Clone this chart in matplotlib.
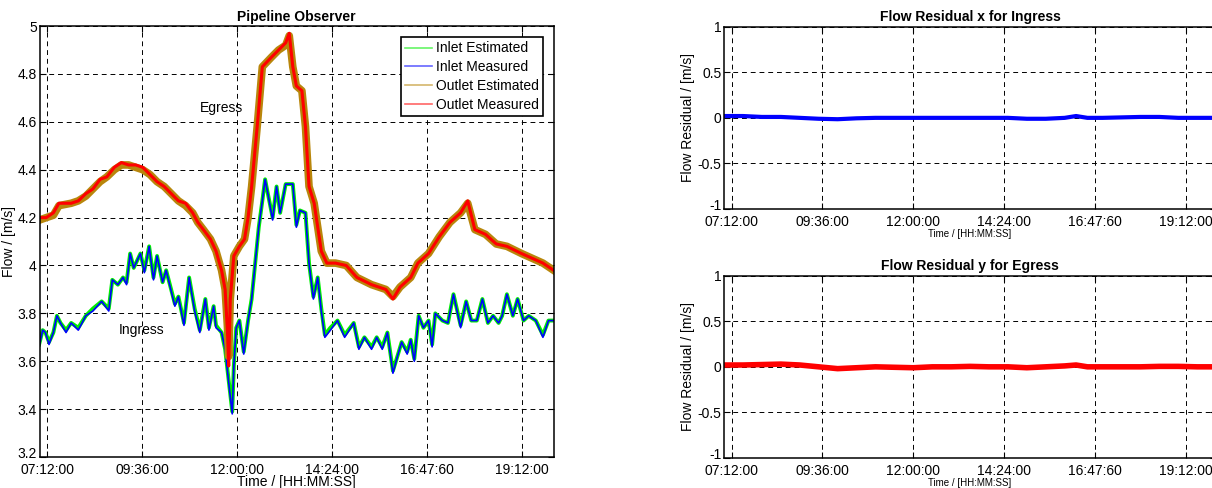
import numpy as np
import matplotlib
matplotlib.use('Agg')
import matplotlib.pyplot as plt
import matplotlib.transforms as mtransforms

plt.rcParams['font.family'] = ['Liberation Sans', 'DejaVu Sans']
plt.rcParams['font.size'] = 10

# Время в часах и значения
outlet_t = [7.0, 7.17, 7.35, 7.49, 7.8, 7.98, 8.17, 8.35, 8.53, 8.7, 8.89, 9.07,
            9.25, 9.43, 9.61, 9.79, 9.97, 10.15, 10.33, 10.51, 10.69, 10.87, 11.0,
            11.14, 11.32, 11.46, 11.6, 11.69, 11.75, 11.78, 11.82, 11.91, 12.05,
            12.18, 12.27, 12.36, 12.5, 12.63, 12.86, 13.04, 13.22, 13.31, 13.4,
            13.49, 13.63, 13.72, 13.81, 13.94, 14.03, 14.12, 14.26, 14.48, 14.75,
            15.02, 15.39, 15.75, 15.93, 16.11, 16.38, 16.56, 16.83, 17.1, 17.37,
            17.64, 17.82, 18.0, 18.27, 18.54, 18.81, 19.18, 19.45, 19.72, 19.99]
outlet_meas = [4.20, 4.20, 4.22, 4.26, 4.26, 4.27, 4.30, 4.32, 4.36, 4.37, 4.41, 4.43,
               4.42, 4.42, 4.41, 4.38, 4.35, 4.33, 4.30, 4.27, 4.26, 4.22, 4.18,
               4.15, 4.11, 4.06, 3.98, 3.90, 3.72, 3.58, 3.86, 4.04, 4.08,
               4.11, 4.20, 4.33, 4.58, 4.83, 4.87, 4.90, 4.93, 4.97, 4.83,
               4.75, 4.73, 4.58, 4.33, 4.26, 4.16, 4.06, 4.01, 4.01, 4.00,
               3.95, 3.92, 3.90, 3.86, 3.91, 3.95, 4.01, 4.05, 4.12, 4.18,
               4.22, 4.27, 4.15, 4.13, 4.09, 4.08, 4.05, 4.03, 4.01, 3.98]
outlet_est = [4.19, 4.20, 4.21, 4.25, 4.26, 4.27, 4.29, 4.32, 4.35, 4.37, 4.40, 4.42,
              4.42, 4.41, 4.40, 4.38, 4.35, 4.33, 4.30, 4.27, 4.25, 4.22, 4.18,
              4.15, 4.11, 4.06, 3.98, 3.90, 3.74, 3.62, 3.86, 4.04, 4.08,
              4.11, 4.20, 4.33, 4.58, 4.83, 4.87, 4.90, 4.92, 4.96, 4.83,
              4.75, 4.73, 4.58, 4.33, 4.26, 4.16, 4.06, 4.01, 4.01, 4.00,
              3.95, 3.92, 3.90, 3.87, 3.91, 3.95, 4.01, 4.05, 4.12, 4.18,
              4.22, 4.26, 4.15, 4.13, 4.09, 4.08, 4.05, 4.03, 4.01, 3.98]

inlet_t = [6.99, 7.08, 7.15, 7.24, 7.35, 7.44, 7.53, 7.67, 7.8, 7.98, 8.17, 8.35,
           8.57, 8.75, 8.84, 8.98, 9.11, 9.2, 9.29, 9.38, 9.55, 9.65, 9.77, 9.88,
           9.97, 10.11, 10.2, 10.42, 10.51, 10.65, 10.78, 10.92, 11.05, 11.19,
           11.28, 11.4, 11.46, 11.6, 11.69, 11.78, 11.87, 11.91, 11.97, 12.05,
           12.16, 12.27, 12.36, 12.45, 12.54, 12.63, 12.7, 12.77, 12.89, 12.99,
           13.08, 13.22, 13.4, 13.49, 13.58, 13.72, 13.81, 13.92, 14.03, 14.12,
           14.21, 14.35, 14.53, 14.71, 14.94, 15.07, 15.21, 15.39, 15.52, 15.66,
           15.79, 15.93, 16.06, 16.15, 16.29, 16.38, 16.47, 16.58, 16.7, 16.83,
           16.92, 17.0, 17.18, 17.32, 17.46, 17.64, 17.78, 17.91, 18.05, 18.19,
           18.33, 18.46, 18.6, 18.69, 18.81, 18.96, 19.08, 19.23, 19.36, 19.54,
           19.72, 19.86, 19.99]
inlet_meas = [3.66, 3.73, 3.72, 3.67, 3.72, 3.79, 3.76, 3.72, 3.76, 3.73, 3.79, 3.81,
              3.85, 3.81, 3.94, 3.92, 3.95, 3.92, 4.05, 3.99, 4.05, 3.97, 4.08, 3.94,
              4.04, 3.93, 3.98, 3.83, 3.87, 3.75, 3.95, 3.81, 3.72, 3.86,
              3.73, 3.83, 3.74, 3.72, 3.65, 3.51, 3.38, 3.58, 3.74, 3.77,
              3.63, 3.77, 3.86, 4.01, 4.16, 4.27, 4.36, 4.30, 4.19, 4.33,
              4.22, 4.34, 4.34, 4.16, 4.23, 4.22, 4.01, 3.86, 3.95, 3.81,
              3.70, 3.73, 3.77, 3.70, 3.76, 3.65, 3.70, 3.65, 3.70, 3.65,
              3.72, 3.55, 3.63, 3.68, 3.63, 3.69, 3.60, 3.79, 3.74, 3.77,
              3.66, 3.80, 3.77, 3.76, 3.88, 3.74, 3.85, 3.77, 3.77, 3.86,
              3.76, 3.79, 3.76, 3.79, 3.88, 3.79, 3.86, 3.77, 3.79, 3.77,
              3.70, 3.77, 3.77]
inlet_est = [3.67, 3.73, 3.72, 3.68, 3.72, 3.79, 3.76, 3.73, 3.76, 3.74, 3.79, 3.82,
             3.85, 3.82, 3.94, 3.92, 3.95, 3.93, 4.05, 3.99, 4.05, 3.98, 4.08, 3.95,
             4.04, 3.93, 3.98, 3.84, 3.87, 3.76, 3.95, 3.82, 3.73, 3.86,
             3.74, 3.83, 3.75, 3.72, 3.65, 3.52, 3.39, 3.58, 3.74, 3.77,
             3.64, 3.77, 3.86, 4.01, 4.16, 4.27, 4.36, 4.30, 4.20, 4.33,
             4.22, 4.34, 4.34, 4.17, 4.23, 4.22, 4.01, 3.87, 3.95, 3.82,
             3.71, 3.74, 3.77, 3.71, 3.76, 3.66, 3.70, 3.66, 3.70, 3.66,
             3.72, 3.56, 3.63, 3.68, 3.64, 3.69, 3.61, 3.79, 3.74, 3.77,
             3.67, 3.80, 3.77, 3.76, 3.88, 3.75, 3.85, 3.77, 3.77, 3.86,
             3.76, 3.79, 3.76, 3.79, 3.88, 3.79, 3.86, 3.77, 3.79, 3.77,
             3.71, 3.77, 3.77]

resid_t = [7.0, 7.5, 8.0, 8.5, 9.0, 9.5, 10.0, 10.5, 11.0, 11.5, 12.0, 12.5, 13.0,
           13.5, 14.0, 14.5, 15.0, 15.5, 16.0, 16.3, 16.6, 17.0, 17.5, 18.0, 18.5,
           19.0, 19.5, 20.0]
resid_x = [0.02, 0.02, 0.01, 0.01, 0.0, -0.01, -0.015, -0.005, 0.0, 0.0, 0.0, 0.0, 0.0,
           0.0, 0.0, 0.0, -0.01, -0.01, 0.0, 0.02, 0.0, 0.0, 0.005, 0.01, 0.01,
           0.0, 0.0, 0.0]
resid_y = [0.02, 0.02, 0.025, 0.03, 0.02, 0.0, -0.02, -0.01, 0.0, -0.005, -0.01, 0.0, 0.0,
           0.005, 0.0, 0.0, -0.01, 0.0, 0.01, 0.02, 0.0, 0.0, 0.0, 0.0, 0.005,
           0.005, 0.0, 0.0]

tick_pos = [7.2, 9.6, 12.0, 14.4, 16.8, 19.2]
tick_lab = ['07:12:00', '09:36:00', '12:00:00', '14:24:00', '16:47:60', '19:12:00']


def style_axes(ax):
    ax.set_xlim(7.0, 20.0)
    ax.set_xticks(tick_pos)
    ax.set_xticklabels(tick_lab)
    ax.tick_params(direction='in', top=True, right=True, length=4, width=0.8,
                   labelsize=10, pad=2)
    ax.tick_params(axis='x', pad=4)
    ax.grid(True, color='black', linestyle=(0, (5, 4)), linewidth=0.7)
    for s in ax.spines.values():
        s.set_linewidth(1.1)


def lift_first_ylabel(ax):
    # нижняя подпись оси y чуть выше, чтобы не налезала на подпись времени
    lab = ax.get_yticklabels()[0]
    lab.set_transform(lab.get_transform() +
                      mtransforms.ScaledTranslation(0, 3 / 72, ax.figure.dpi_scale_trans))


fig = plt.figure(figsize=(12.12, 4.88), dpi=100)

ax = fig.add_axes([0.0326, 0.0635, 0.4245, 0.883])
ax.plot(inlet_t, inlet_est, color='#00ee00', linewidth=2.8, label='Inlet Estimated')
ax.plot(inlet_t, inlet_meas, color='#0000ff', linewidth=1.2, label='Inlet Measured')
ax.plot(outlet_t, outlet_est, color='#b8860b', linewidth=5.5, label='Outlet Estimated')
ax.plot(outlet_t, outlet_meas, color='#ff0000', linewidth=2.2, label='Outlet Measured')
style_axes(ax)
ax.set_ylim(3.2, 5.0)
ax.set_yticks([3.2, 3.4, 3.6, 3.8, 4.0, 4.2, 4.4, 4.6, 4.8, 5.0])
ax.set_yticklabels(['3.2', '3.4', '3.6', '3.8', '4', '4.2', '4.4', '4.6', '4.8', '5'])
lift_first_ylabel(ax)
ax.set_title('Pipeline Observer', fontsize=10, fontweight='bold', pad=4)
ax.set_xlabel('Time / [HH:MM:SS]', fontsize=10, labelpad=-1)
ax.set_ylabel('Flow / [m/s]', fontsize=10, labelpad=1)
ax.text(11.6, 4.66, 'Egress', ha='center', va='center', fontsize=10)
ax.text(9.58, 3.73, 'Ingress', ha='center', va='center', fontsize=10)
leg = ax.legend(loc='upper right', fontsize=10, fancybox=False, framealpha=1,
                edgecolor='black', handlelength=1.9, borderaxespad=0.8,
                labelspacing=0.35, borderpad=0.3, handletextpad=0.3)
for h in leg.get_lines():
    h.set_linewidth(1.2)
    h.set_alpha(0.6)
leg.get_frame().set_linewidth(1.2)

ax1 = fig.add_axes([0.5974, 0.5717, 0.406, 0.3736])
ax1.plot(resid_t, resid_x, color='#0000ff', linewidth=3)
style_axes(ax1)
ax1.set_ylim(-1, 1)
ax1.set_yticks([-1, -0.5, 0, 0.5, 1])
ax1.set_yticklabels(['-1', '-0.5', '0', '0.5', '1'])
lift_first_ylabel(ax1)
ax1.set_title('Flow Residual x for Ingress', fontsize=10, fontweight='bold', pad=4)
ax1.set_xlabel('Time / [HH:MM:SS]', fontsize=7, labelpad=0)
ax1.set_ylabel('Flow Residual / [m/s]', fontsize=10, labelpad=2)

ax2 = fig.add_axes([0.5974, 0.0615, 0.406, 0.3736])
ax2.plot(resid_t, resid_y, color='#ff0000', linewidth=4)
style_axes(ax2)
ax2.set_ylim(-1, 1)
ax2.set_yticks([-1, -0.5, 0, 0.5, 1])
ax2.set_yticklabels(['-1', '-0.5', '0', '0.5', '1'])
lift_first_ylabel(ax2)
ax2.set_title('Flow Residual y for Egress', fontsize=10, fontweight='bold', pad=4)
ax2.set_xlabel('Time / [HH:MM:SS]', fontsize=7, labelpad=0)
ax2.set_ylabel('Flow Residual / [m/s]', fontsize=10, labelpad=2)

fig.savefig('out.png', dpi=100)
